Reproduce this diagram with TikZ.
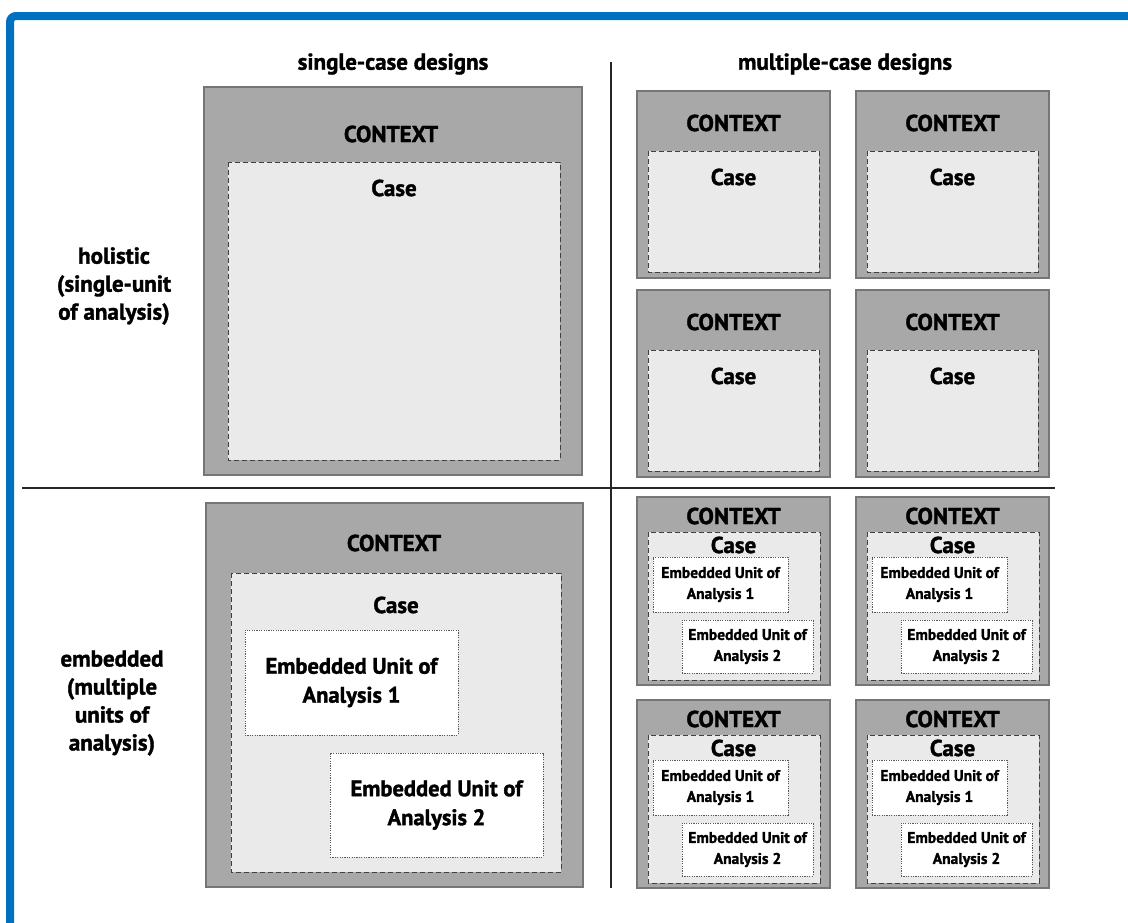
\documentclass[tikz,border=0pt]{standalone}
\usepackage{fontspec}
\setmainfont{PT Sans}[BoldFeatures={FakeBold=1.5}]
\usetikzlibrary{positioning}
\definecolor{frameblue}{RGB}{0,112,192}
\definecolor{ctxgray}{RGB}{168,168,168}
\definecolor{ctxedge}{RGB}{118,118,118}
\definecolor{casegray}{RGB}{234,234,234}

\begin{document}
\begin{tikzpicture}[x=1pt, y=-1pt,
  ctxbox/.style={fill=ctxgray, draw=ctxedge, line width=1.2pt},
  casebox/.style={fill=casegray, draw=black!75, dash pattern=on 5pt off 3pt, line width=0.9pt},
  unitbox/.style={fill=white, draw=black!65, dash pattern=on 1.2pt off 1.2pt, line width=0.9pt, inner sep=0pt, align=center},
  biglabel/.style={font=\bfseries\fontsize{23}{28}\selectfont, align=center},
  unitbig/.style={font=\bfseries\fontsize{22.5}{29}\selectfont},
  unitsmall/.style={font=\bfseries\fontsize{15.5}{21}\selectfont}]

  \useasboundingbox (0,0) rectangle (1128,922);

  % Frame
  \draw[frameblue, line width=8pt, rounded corners=6pt] (10,940) -- (10,16) -- (1140,16);

  % Column heads
  \node[biglabel] (headsingle) at (393,64) {single-case designs};
  \node[biglabel] (headmulti) at (845,64) {multiple-case designs};

  % Row labels
  \node[biglabel] (rowholistic) at (114,286) {holistic\\(single-unit\\of analysis)};
  \node[biglabel] (rowembedded) at (112,703) {embedded\\(multiple\\units of\\analysis)};

  % Dividers
  \draw[line width=1.6pt, black!85] (22,488) -- (1055,488);
  \draw[line width=1.6pt, black!85] (611,62) -- (611,888);

  % Single-case, holistic
  \draw[ctxbox] (204,87) rectangle (582,475);
  \node[biglabel] (ctxA) at (391,134) {CONTEXT};
  \draw[casebox] (228,162) rectangle (560,460);
  \node[biglabel] (caseA) at (394,188) {Case};

  % Multiple-case, holistic
  \foreach \c/\x in {1/637, 2/856}{
    \foreach \r/\y in {1/91, 2/290}{
      \draw[ctxbox] (\x,\y) rectangle ++(193,187);
      \node[biglabel] (ctxH\c\r) at (\x+96.5,\y+32) {CONTEXT};
      \draw[casebox] (\x+11,\y+60) rectangle (\x+182,\y+181);
      \node[biglabel] (caseH\c\r) at (\x+96.5,\y+86) {Case};
    }
  }

  % Single-case, embedded
  \draw[ctxbox] (206,503) rectangle (583,887);
  \node[biglabel] (ctxE) at (394,543) {CONTEXT};
  \draw[casebox] (231,573) rectangle (561,872);
  \node[biglabel] (caseE) at (396,605) {Case};
  \node[unitbox, unitbig, minimum width=213, minimum height=105] (unitE1) at (351.5,682.5) {Embedded Unit of\\Analysis 1};
  \node[unitbox, unitbig, minimum width=213, minimum height=104] (unitE2) at (436.5,805) {Embedded Unit of\\Analysis 2};

  % Multiple-case, embedded
  \foreach \c/\x in {1/637, 2/856}{
    \foreach \r/\y in {1/497, 2/700}{
      \draw[ctxbox] (\x,\y) rectangle ++(193,188);
      \node[biglabel] (ctxM\c\r) at (\x+96.5,\y+19) {CONTEXT};
      \draw[casebox] (\x+11,\y+35) rectangle (\x+183,\y+183);
      \node[biglabel] (caseM\c\r) at (\x+96.5,\y+48) {Case};
      \node[unitbox, unitsmall, minimum width=135, minimum height=55] (unitM\c\r-a) at (\x+83.5,\y+87.5) {Embedded Unit of\\Analysis 1};
      \node[unitbox, unitsmall, minimum width=131, minimum height=53] (unitM\c\r-b) at (\x+110.5,\y+149.5) {Embedded Unit of\\Analysis 2};
    }
  }

\end{tikzpicture}
\end{document}
